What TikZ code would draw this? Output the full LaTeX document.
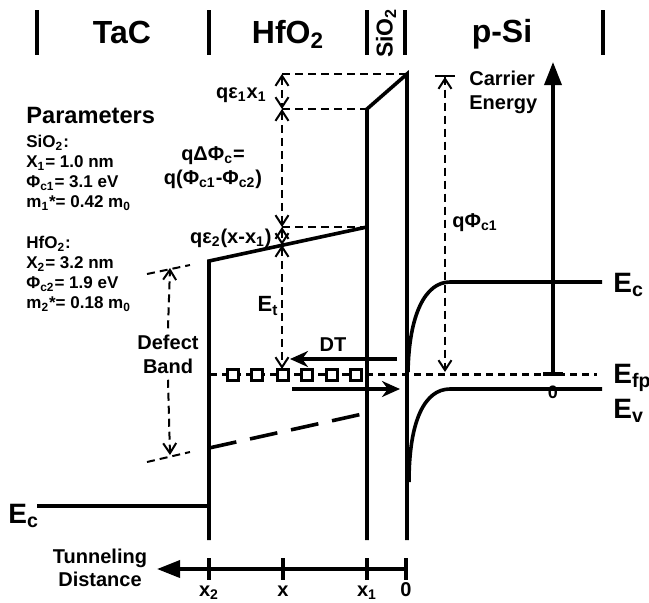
\documentclass[tikz,border=0pt]{standalone}
\usepackage{fontspec}
\setmainfont{Liberation Sans}
\usetikzlibrary{arrows.meta, positioning, calc}

\begin{document}
\begin{tikzpicture}[x=0.5pt, y=-0.5pt,
  band/.style={line width=1.8pt},
  guide/.style={line width=1pt, dash pattern=on 4pt off 2.5pt},
  dim/.style={guide, {Straight Barb[length=5pt,width=6.5pt]}-{Straight Barb[length=5pt,width=6.5pt]}},
  head/.style={font=\fontsize{16}{18}\selectfont\bfseries, inner sep=0pt},
  lbl/.style={font=\fontsize{10}{12}\selectfont\bfseries, inner sep=0pt},
  big/.style={font=\fontsize{14}{16}\selectfont\bfseries, inner sep=0pt, anchor=base west},
  param/.style={font=\fontsize{8.5}{10}\selectfont\bfseries, inner sep=0pt, align=left, anchor=north west},
  trap/.style={draw, line width=1.1pt, fill=white, minimum size=5.5pt, inner sep=0pt},
  dt/.style={line width=1.6pt, -{Stealth[length=9pt,width=8pt]}},
  axis/.style={line width=1.8pt, -{Triangle[length=11.5pt,width=8.5pt]}}]
\useasboundingbox (0,0) rectangle (649,602);

% region headers
\foreach \xb in {37,209,367,405,603}
  \draw[band] (\xb,10) -- (\xb,55);
\node[head, anchor=base] (tac) at (122,43) {TaC};
\node[head, anchor=base] (hfo) at (288,43) {HfO\textsubscript{2}};
\node[head, font=\fontsize{11.5}{13}\selectfont\bfseries, rotate=90] (sio) at (386,33) {SiO\textsubscript{2}};
\node[head, anchor=base] (psi) at (502,42) {p-Si};

% parameters
\node[anchor=base west, font=\fontsize{11.8}{14}\selectfont\bfseries, inner sep=0pt] (partitle) at (26,123) {Parameters};
\node[param] (parsio) at (26,135) {SiO\textsubscript{2}:\\X\textsubscript{1}= 1.0 nm\\Φ\textsubscript{c1}= 3.1 eV\\m\textsubscript{1}*= 0.42 m\textsubscript{0}};
\node[param] (parhfo) at (26,236) {HfO\textsubscript{2}:\\X\textsubscript{2}= 3.2 nm\\Φ\textsubscript{c2}= 1.9 eV\\m\textsubscript{2}*= 0.18 m\textsubscript{0}};

% gate and oxide bands
\draw[band] (37,506) -- (209,506);
\node[big] (ecg) at (8,523) {E\textsubscript{c}};
\draw[band] (209,540) -- (209,261) -- (367,227);
\draw[band] (367,540) -- (367,109) -- (407,74) -- (407,540);
\draw[band, dash pattern=on 14pt off 7pt] (209,448) -- (367,413);

% defect band
\draw[guide] (147,274) -- (190,265);
\draw[guide] (147,462) -- (190,452);
\node[lbl, align=center] (defect) at (168,354) {Defect\\Band};
\draw[guide, -{Straight Barb[length=5pt,width=6.5pt]}] (defect.north) ++(0,-6) coordinate (dtop) -- (170,268);
\draw[guide, -{Straight Barb[length=5pt,width=6.5pt]}] (defect.south) ++(0,6) coordinate (dbot) -- (170,455);

% energy steps
\draw[guide] (282,74) -- (407,74);
\draw[guide] (282,109) -- (367,109);
\draw[guide] (282,227) -- (367,227);
\draw[dim] (282,74) -- (282,109);
\draw[dim] (282,109) -- (282,227);
\draw[dim] (282,227) -- (282,245);
\draw[dim] (282,245) -- (282,369);
\node[lbl, anchor=base east] (qe1) at (267,98) {qε\textsubscript{1}x\textsubscript{1}};
\node[lbl, align=center] (dphi) at (213,168) {qΔΦ\textsubscript{c}=\\q(Φ\textsubscript{c1}-Φ\textsubscript{c2})};
\node[lbl, anchor=east] (qe2) at (272,238) {qε\textsubscript{2}(x-x\textsubscript{1})};
\node[lbl, font=\fontsize{11}{13}\selectfont\bfseries] (et) at (268,306) {E\textsubscript{t}};

% Fermi level and traps
\draw[line width=1.5pt, dash pattern=on 3.5pt off 2.5pt] (210,374) -- (597,374);
\foreach \xs [count=\i] in {233,257,283,307,332,356}
  \node[trap] (trap\i) at (\xs,375) {};
\draw[dt] (397,359) -- (290,359);
\draw[dt] (292,389) -- (400,389);
\node[lbl] (dtl) at (333,345) {DT};

% substrate bands
\draw[band] (602,282) -- (450,282) .. controls (425,282) and (409,315) .. (408,372);
\draw[band] (602,389) -- (450,389) .. controls (425,389) and (409,420) .. (409,482);
\node[big] (ecs) at (613,292) {E\textsubscript{c}};
\node[big] (efp) at (613,383) {E\textsubscript{fp}};
\node[big] (evs) at (613,418) {E\textsubscript{v}};
\draw[guide, {Bar[width=10pt]Straight Barb[length=5pt,width=6.5pt]}-{Straight Barb[length=5pt,width=6.5pt]}] (445,75) -- (445,372);
\node[lbl, anchor=west] (qphi) at (452,223) {qΦ\textsubscript{c1}};

% energy axis
\draw[band] (543,374) -- (563,374);
\draw[axis] (553,374) -- (553,62);
\node[lbl, align=left, anchor=west] (carrier) at (469,92) {Carrier\\Energy};
\node[lbl, font=\fontsize{9}{11}\selectfont\bfseries] (zero) at (553,392) {0};

% distance axis
\draw[axis] (406,569) -- (157,569);
\foreach \xt/\lt in {209/x\textsubscript{2}, 283/x, 367/x\textsubscript{1}, 406/0}
  \draw[band] (\xt,558) -- (\xt,580) node[lbl, anchor=base, yshift=-8pt] {\lt};
\node[lbl, align=center, font=\fontsize{10}{11.5}\selectfont\bfseries] (tunnel) at (100,568) {Tunneling\\Distance};
\end{tikzpicture}
\end{document}
